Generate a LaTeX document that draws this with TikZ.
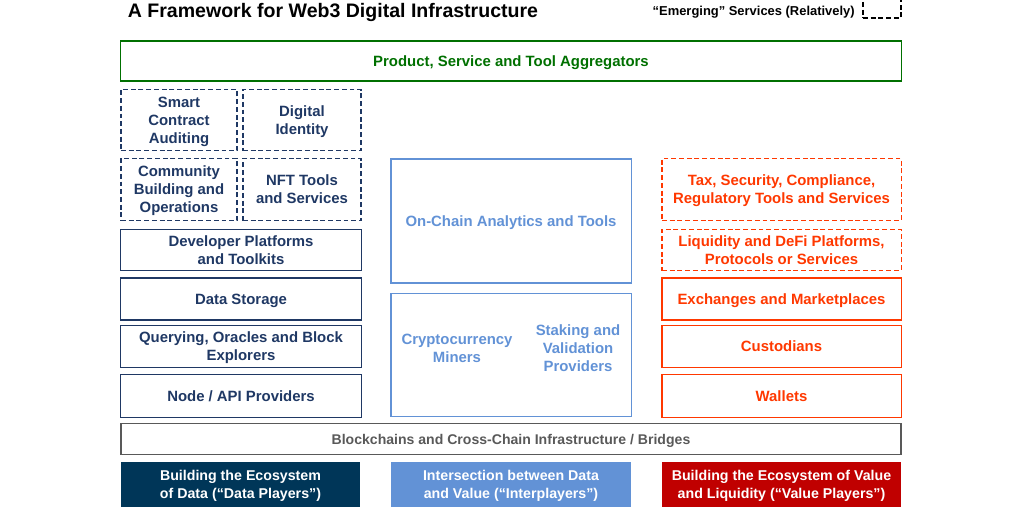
\documentclass[tikz,border=0pt]{standalone}
\usepackage{fontspec}
\setmainfont{Liberation Sans}
\usetikzlibrary{positioning}

\definecolor{datablue}{RGB}{31,56,100}
\definecolor{datafill}{RGB}{0,54,88}
\definecolor{interblue}{RGB}{98,146,214}
\definecolor{valuered}{RGB}{255,56,0}
\definecolor{valuefill}{RGB}{192,0,0}
\definecolor{agggreen}{RGB}{0,112,0}
\definecolor{chaingray}{RGB}{89,89,89}

\begin{document}
\begin{tikzpicture}[x=0.025cm, y=-0.025cm,
    txt/.style={font=\fontsize{10.6}{12.8}\selectfont\bfseries, align=center, inner sep=0pt, text depth=0pt},
    box/.style={txt, draw, line width=0.75pt, rectangle},
    dashbox/.style={box, dash pattern=on 3.5pt off 2pt},
    databox/.style={box, draw=datablue, text=datablue},
    datadash/.style={dashbox, draw=datablue, text=datablue},
    interbox/.style={box, draw=interblue, text=interblue},
    valuebox/.style={box, draw=valuered, text=valuered},
    valuedash/.style={dashbox, draw=valuered, text=valuered},
    footer/.style={txt, text=white, minimum width=5.975cm, minimum height=1.125cm,
        font=\fontsize{10.1}{12.8}\selectfont\bfseries}
]
    \useasboundingbox (0,0) rectangle (1014,507);

    % title and legend
    \node[txt, font=\fontsize{13.9}{16}\selectfont\bfseries] (title) at (333,10) {A Framework for Web3 Digital Infrastructure};
    \node[txt, anchor=east, font=\fontsize{9.2}{11}\selectfont\bfseries] (legend) at (855,11) {“Emerging” Services (Relatively)};
    \node[draw, line width=0.75pt, dash pattern=on 3.5pt off 2pt, minimum width=0.95cm, minimum height=0.7cm] (legbox) at (882,4) {};

    % aggregators
    \node[box, draw=agggreen, text=agggreen, minimum width=19.5cm, minimum height=1cm] (agg) at (511,61) {Product, Service and Tool Aggregators};

    % data players
    \node[datadash, minimum width=2.9cm, minimum height=1.525cm] (audit) at (179,120) {Smart\\Contract\\Auditing};
    \node[datadash, minimum width=2.95cm, minimum height=1.525cm] (ident) at (302,120) {Digital\\Identity};
    \node[datadash, minimum width=2.9cm, minimum height=1.55cm] (comm) at (179,189.5) {Community\\Building and\\Operations};
    \node[datadash, minimum width=2.95cm, minimum height=1.55cm] (nft) at (302,189.5) {NFT Tools\\and Services};
    \node[databox, minimum width=6cm, minimum height=1.025cm] (devp) at (241,250) {Developer Platforms\\and Toolkits};
    \node[databox, minimum width=6cm, minimum height=1.05cm] (store) at (241,299) {Data Storage};
    \node[databox, minimum width=6cm, minimum height=1.05cm] (query) at (241,346.5) {Querying, Oracles and Block\\Explorers};
    \node[databox, minimum width=6cm, minimum height=1.075cm] (nodes) at (241,396) {Node / API Providers};

    % interplayers
    \node[interbox, minimum width=6cm, minimum height=3.1cm] (chain) at (511,221) {On-Chain Analytics and Tools};
    \node[interbox, minimum width=6cm, minimum height=3.075cm] (mining) at (511,355) {};
    \node[txt, text=interblue] (miners) at (457,348) {Cryptocurrency\\Miners};
    \node[txt, text=interblue] (staking) at (578,348) {Staking and\\Validation\\Providers};

    % value players
    \node[valuedash, minimum width=5.975cm, minimum height=1.55cm] (tax) at (781.5,189.5) {Tax, Security, Compliance,\\Regulatory Tools and Services};
    \node[valuedash, minimum width=5.975cm, minimum height=1.025cm] (defi) at (781.5,250) {Liquidity and DeFi Platforms,\\Protocols or Services};
    \node[valuebox, minimum width=5.975cm, minimum height=1.05cm] (exch) at (781.5,299) {Exchanges and Marketplaces};
    \node[valuebox, minimum width=5.975cm, minimum height=1.05cm] (cust) at (781.5,346.5) {Custodians};
    \node[valuebox, minimum width=5.975cm, minimum height=1.075cm] (wall) at (781.5,396) {Wallets};

    % base layer
    \node[box, draw=chaingray, text=chaingray, line width=1.4pt, minimum width=19.5cm, minimum height=0.775cm,
        font=\fontsize{10}{12}\selectfont\bfseries] (bridge) at (511,439) {Blockchains and Cross-Chain Infrastructure / Bridges};

    % footers
    \node[footer, fill=datafill] (dataf) at (240.5,484) {Building the Ecosystem\\of Data (“Data Players”)};
    \node[footer, fill=interblue] (interf) at (511,484) {Intersection between Data\\and Value (“Interplayers”)};
    \node[footer, fill=valuefill] (valuef) at (781.5,484) {Building the Ecosystem of Value\\and Liquidity (“Value Players”)};
\end{tikzpicture}
\end{document}
